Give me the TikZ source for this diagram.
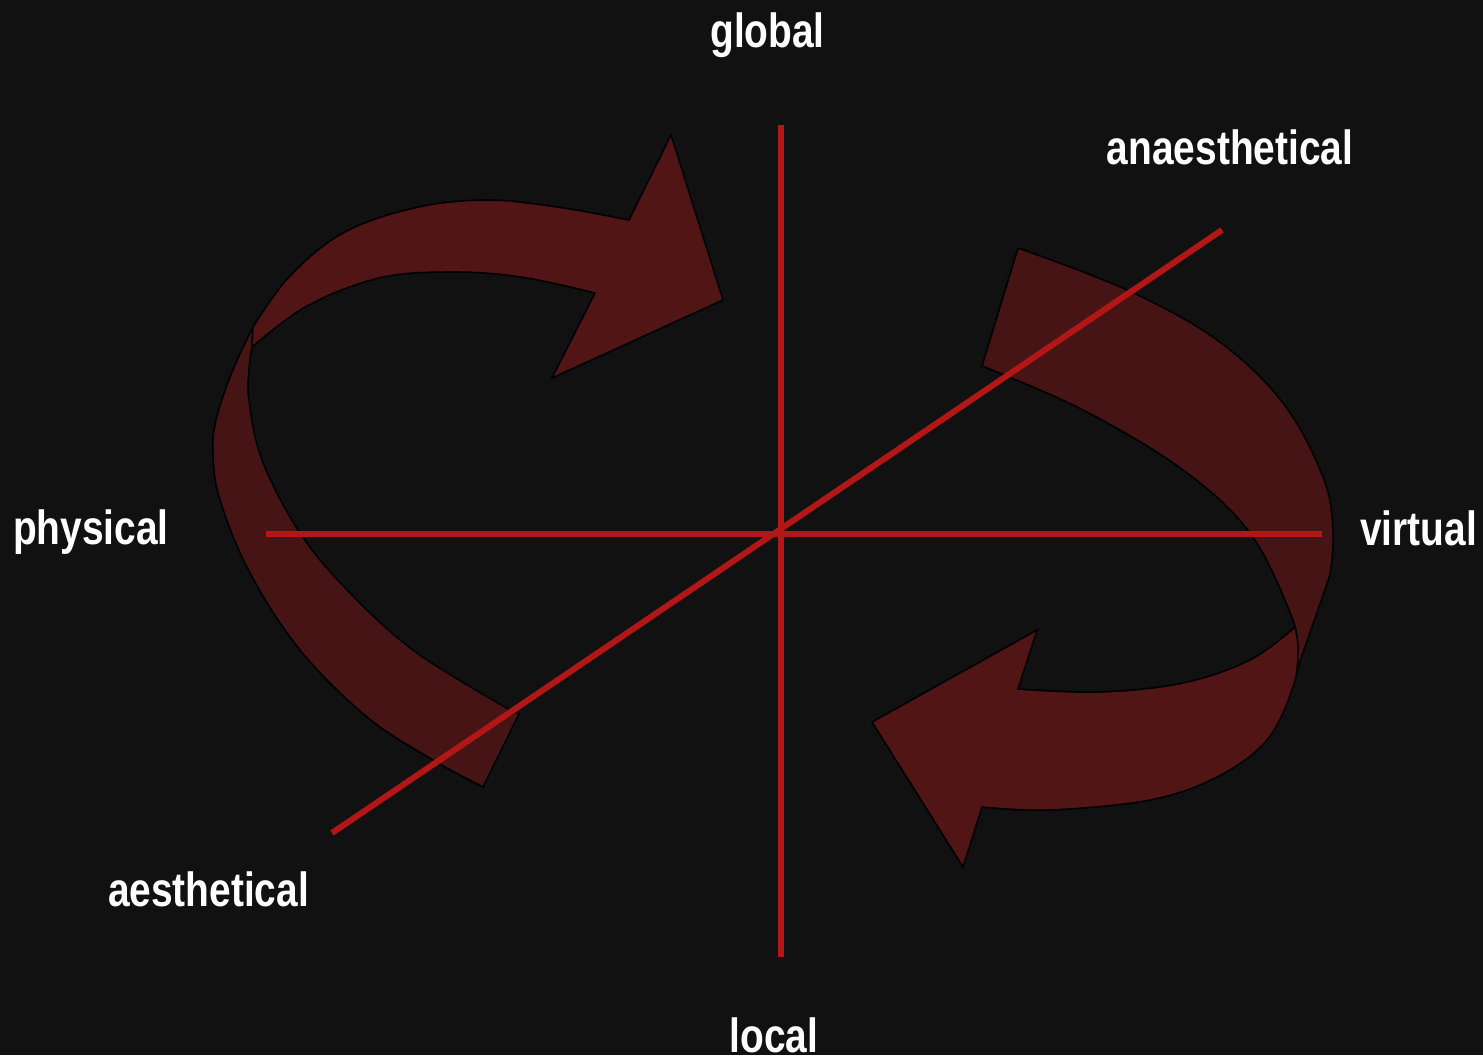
\documentclass[tikz,border=0pt]{standalone}
\usepackage{fontspec}
\newfontfamily\labfont[FakeStretch=0.81]{Liberation Sans}
\definecolor{bg}{HTML}{111111}
\definecolor{bandA}{HTML}{521515}
\definecolor{bandB}{HTML}{461414}
\definecolor{axiscol}{HTML}{B21616}
\begin{document}
\begin{tikzpicture}[x=0.5pt,y=-0.5pt,
  band/.style={draw=black, line width=0.8pt, line join=miter},
  axisline/.style={draw=axiscol, line width=3pt},
  lab/.style={text=white, font=\labfont\bfseries\fontsize{24}{28}\selectfont, anchor=base, inner sep=0pt}]
\fill[bg] (0,0) rectangle (1483,1055);
\useasboundingbox (0,0) rectangle (1483,1055);

% left arrow, lower (darker) band
\filldraw[band, fill=bandB] plot[smooth, tension=0.6] coordinates {(253,327) (232,372) (216,420) (213,455) (220,500) (250,573) (300,650) (367,717) (433,760) (483,787)}
  -- (519,714)
  -- plot[smooth, tension=0.6] coordinates {(512,711) (417,653) (350,593) (300,533) (262,460) (249,400) (249,370) (252,347)} -- cycle;

% left arrow, upper (brighter) band with head
\filldraw[band, fill=bandA] plot[smooth, tension=0.6] coordinates {(252,347) (307,306) (379,278) (450,272) (521,277) (595,293)}
  -- (552,378) -- (723,300) -- (671,135)
  -- plot[smooth, tension=0.6] coordinates {(629,220) (557,207) (486,200) (414,208) (343,233) (289,277) (253,327)} -- cycle;

% right arrow, upper (darker) band
\filldraw[band, fill=bandB] (982,366) -- (1018,248)
  -- plot[smooth, tension=0.6] coordinates {(1018,248) (1127,290) (1217,340) (1283,403) (1323,477) (1333,530) (1330,575)}
  -- (1297,670)
  -- plot[smooth, tension=0.6] coordinates {(1297,670) (1297,648) (1291,615) (1250,533) (1183,470) (1083,410) (982,366)} -- cycle;

% right arrow, lower (brighter) band with head
\filldraw[band, fill=bandA] plot[smooth, tension=0.6] coordinates {(1295,627) (1250,660) (1183,683) (1100,692) (1018,689)}
  -- (1037,630) -- (872,722) -- (963,867) -- (982,807)
  -- plot[smooth, tension=0.6] coordinates {(982,807) (1050,810) (1150,800) (1217,777) (1267,740) (1293,687) (1298,650) (1295,627)} -- cycle;

% axes
\coordinate (axL) at (266,534);
\coordinate (axR) at (1322,534);
\coordinate (axT) at (781,125);
\coordinate (axB) at (781,957);
\coordinate (axD1) at (332,833);
\coordinate (axD2) at (1222,230);
\draw[axisline] (axL) -- (axR);
\draw[axisline] (axT) -- (axB);
\draw[axisline] (axD1) -- (axD2);

% labels
\node[lab] (global) at (767.5,47) {global};
\node[lab] (anaes) at (1230,164) {anaesthetical};
\node[lab] (phys) at (91,544) {physical};
\node[lab] (virt) at (1418.5,545) {virtual};
\node[lab] (aes) at (208.5,906) {aesthetical};
\node[lab] (local) at (774,1052) {local};
\end{tikzpicture}
\end{document}
